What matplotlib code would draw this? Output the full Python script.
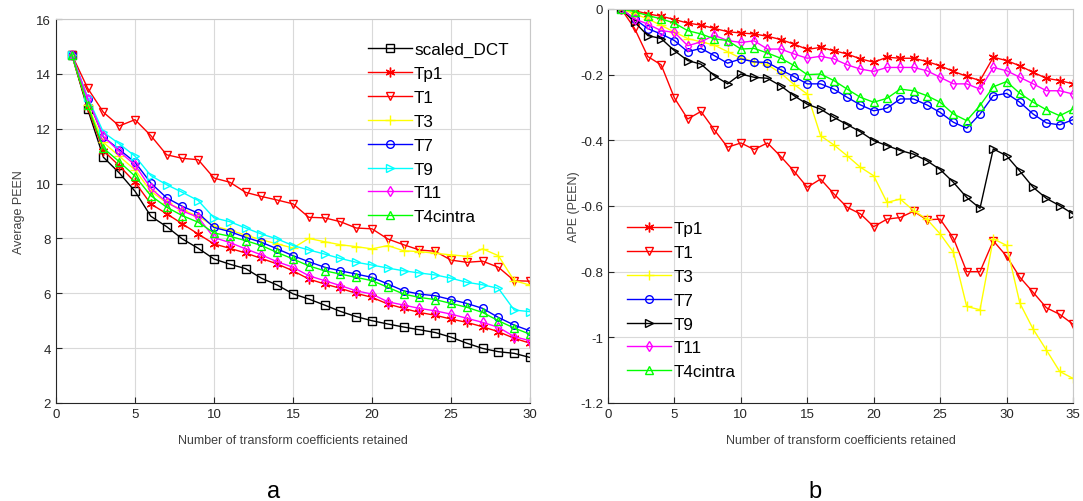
import numpy as np
import matplotlib
matplotlib.use('Agg')
import matplotlib.pyplot as plt

plt.rcParams['font.family'] = ['Liberation Sans', 'DejaVu Sans']

# ---- panel a: Average PEEN, 1..30 coefficients ----
xa = np.arange(1, 31)
a_scaled_dct = [14.7, 12.72, 10.96, 10.39, 9.72, 8.81, 8.43, 7.98, 7.64, 7.25, 7.06, 6.9, 6.55, 6.3, 5.98,
                5.79, 5.57, 5.34, 5.15, 5.0, 4.88, 4.77, 4.67, 4.57, 4.4, 4.18, 3.99, 3.87, 3.81, 3.66]
a_tp1 = [14.7, 12.78, 11.2, 10.65, 10.05, 9.26, 8.9, 8.53, 8.16, 7.8, 7.64, 7.47, 7.27, 7.07, 6.82,
         6.52, 6.34, 6.18, 6.0, 5.85, 5.61, 5.45, 5.3, 5.2, 5.06, 4.94, 4.78, 4.6, 4.36, 4.18]
a_t1 = [14.7, 13.48, 12.6, 12.1, 12.33, 11.75, 11.05, 10.92, 10.87, 10.2, 10.05, 9.68, 9.53, 9.4, 9.26,
        8.77, 8.75, 8.61, 8.38, 8.35, 7.98, 7.77, 7.58, 7.53, 7.21, 7.13, 7.17, 6.95, 6.46, 6.44]
a_t3 = [14.7, 12.88, 11.5, 11.0, 10.5, 9.72, 9.3, 9.05, 8.8, 8.45, 8.3, 8.12, 7.95, 7.8, 7.65,
        8.0, 7.88, 7.77, 7.7, 7.62, 7.74, 7.55, 7.52, 7.46, 7.4, 7.35, 7.62, 7.37, 6.46, 6.3]
a_t7 = [14.7, 13.09, 11.7, 11.24, 10.78, 10.02, 9.48, 9.17, 8.92, 8.4, 8.25, 8.04, 7.86, 7.62, 7.37,
        7.15, 6.95, 6.82, 6.7, 6.58, 6.34, 6.09, 5.97, 5.91, 5.77, 5.63, 5.45, 5.12, 4.84, 4.63]
a_t9 = [14.7, 13.15, 11.87, 11.45, 11.0, 10.29, 9.96, 9.68, 9.38, 8.75, 8.61, 8.38, 8.16, 7.98, 7.74,
        7.58, 7.43, 7.27, 7.13, 7.03, 6.92, 6.82, 6.74, 6.67, 6.55, 6.4, 6.31, 6.18, 5.39, 5.33]
a_t11 = [14.7, 13.1, 11.72, 11.17, 10.68, 9.83, 9.32, 9.0, 8.77, 8.03, 7.85, 7.62, 7.4, 7.15, 6.95,
         6.64, 6.46, 6.28, 6.09, 5.97, 5.69, 5.57, 5.45, 5.36, 5.24, 5.09, 4.94, 4.76, 4.42, 4.27]
a_t4cintra = [14.7, 12.85, 11.29, 10.8, 10.27, 9.56, 9.14, 8.83, 8.59, 8.2, 8.08, 7.92, 7.74, 7.49, 7.25,
              7.0, 6.82, 6.7, 6.58, 6.46, 6.22, 5.97, 5.85, 5.77, 5.63, 5.49, 5.3, 5.0, 4.73, 4.51]

# ---- panel b: APE (PEEN), 1..35 coefficients ----
xb = np.arange(1, 36)
b_tp1 = [0, -0.005, -0.015, -0.022, -0.032, -0.043, -0.049, -0.059, -0.069, -0.073, -0.076, -0.083,
         -0.093, -0.107, -0.123, -0.117, -0.127, -0.137, -0.152, -0.162, -0.147, -0.15, -0.15, -0.16,
         -0.173, -0.19, -0.205, -0.218, -0.147, -0.157, -0.173, -0.193, -0.211, -0.218, -0.228]
b_t1 = [0, -0.059, -0.145, -0.17, -0.271, -0.335, -0.312, -0.368, -0.421, -0.408, -0.428, -0.408,
        -0.449, -0.494, -0.543, -0.518, -0.563, -0.604, -0.624, -0.663, -0.64, -0.635, -0.616, -0.642,
        -0.64, -0.698, -0.8, -0.8, -0.706, -0.753, -0.817, -0.863, -0.91, -0.93, -0.96]
b_t3 = [0, -0.015, -0.03, -0.05, -0.07, -0.09, -0.1, -0.11, -0.13, -0.15, -0.16, -0.17, -0.195,
        -0.23, -0.259, -0.386, -0.414, -0.447, -0.482, -0.508, -0.589, -0.579, -0.614, -0.64, -0.685,
        -0.741, -0.906, -0.916, -0.70, -0.72, -0.896, -0.975, -1.039, -1.104, -1.125]
b_t7 = [0, -0.03, -0.06, -0.076, -0.096, -0.13, -0.12, -0.142, -0.165, -0.152, -0.161, -0.163,
        -0.185, -0.206, -0.228, -0.228, -0.244, -0.269, -0.292, -0.31, -0.302, -0.274, -0.274, -0.292,
        -0.315, -0.345, -0.363, -0.32, -0.264, -0.257, -0.284, -0.32, -0.347, -0.353, -0.337]
b_t9 = [0, -0.04, -0.081, -0.09, -0.127, -0.157, -0.168, -0.203, -0.228, -0.198, -0.208, -0.211,
        -0.234, -0.264, -0.29, -0.305, -0.33, -0.352, -0.374, -0.401, -0.416, -0.431, -0.442, -0.462,
        -0.489, -0.528, -0.574, -0.607, -0.426, -0.447, -0.494, -0.543, -0.577, -0.599, -0.624]
b_t11 = [0, -0.03, -0.046, -0.066, -0.071, -0.112, -0.1, -0.08, -0.096, -0.102, -0.097, -0.122,
         -0.122, -0.137, -0.15, -0.144, -0.152, -0.17, -0.183, -0.19, -0.178, -0.178, -0.178, -0.188,
         -0.208, -0.228, -0.228, -0.244, -0.178, -0.188, -0.208, -0.228, -0.249, -0.249, -0.259]
b_t4cintra = [0, -0.008, -0.02, -0.03, -0.043, -0.066, -0.076, -0.091, -0.096, -0.122, -0.12, -0.134,
              -0.15, -0.172, -0.2, -0.198, -0.218, -0.244, -0.269, -0.284, -0.272, -0.244, -0.249, -0.264,
              -0.284, -0.32, -0.34, -0.294, -0.237, -0.221, -0.257, -0.284, -0.307, -0.325, -0.305]

asterisk = (6, 2, 0)
series_a = [
    ('scaled_DCT', a_scaled_dct, 'black', 's'),
    ('Tp1', a_tp1, 'red', asterisk),
    ('T1', a_t1, 'red', 'v'),
    ('T3', a_t3, 'yellow', '+'),
    ('T7', a_t7, 'blue', 'o'),
    ('T9', a_t9, 'cyan', '>'),
    ('T11', a_t11, 'magenta', 'd'),
    ('T4cintra', a_t4cintra, 'lime', '^'),
]
series_b = [
    ('Tp1', b_tp1, 'red', asterisk),
    ('T1', b_t1, 'red', 'v'),
    ('T3', b_t3, 'yellow', '+'),
    ('T7', b_t7, 'blue', 'o'),
    ('T9', b_t9, 'black', '>'),
    ('T11', b_t11, 'magenta', 'd'),
    ('T4cintra', b_t4cintra, 'lime', '^'),
]

W, H = 1083, 502
fig = plt.figure(figsize=(W / 100, H / 100), dpi=100)


def style_axes(ax):
    ax.grid(True, color='#d9d9d9', lw=0.8)
    ax.set_axisbelow(True)
    for s in ('top', 'right'):
        ax.spines[s].set_color('#c8c8c8')
    for s in ('left', 'bottom'):
        ax.spines[s].set_color('#262626')
    ax.tick_params(direction='in', length=4, colors='#262626', labelsize=9.5,
                   top=False, right=False)


def draw(ax, x, series):
    for name, y, c, m in series:
        filled = m in ('+', asterisk)
        ms = 7 if filled else 5.5
        ax.plot(x, y, color=c, lw=1, marker=m, ms=ms, mfc=c if filled else 'none',
                mec=c, mew=1, label=name)


leg_kw = dict(frameon=False, fontsize=12.3, handlelength=2.55, handletextpad=0.15,
              labelspacing=0.52, borderpad=0, borderaxespad=0, loc='upper left')

ax1 = fig.add_axes([56 / W, (H - 404) / H, (530 - 56) / W, (404 - 20) / H])
style_axes(ax1)
draw(ax1, xa, series_a)
ax1.set_xlim(0, 30)
ax1.set_ylim(2, 16)
ax1.set_xticks(range(0, 31, 5))
ax1.set_yticks(range(2, 17, 2))
ax1.set_xlabel('Number of transform coefficients retained', fontsize=9, color='#404040', labelpad=10)
ax1.set_ylabel('Average PEEN', fontsize=9, color='#404040', labelpad=8)
ax1.legend(bbox_to_anchor=(368 / W, 1 - 43 / H), bbox_transform=fig.transFigure, **leg_kw)

ax2 = fig.add_axes([608 / W, (H - 404) / H, (1073 - 608) / W, (404 - 10) / H])
style_axes(ax2)
draw(ax2, xb, series_b)
ax2.set_xlim(0, 35)
ax2.set_ylim(-1.2, 0)
ax2.set_xticks(range(0, 36, 5))
yt = [-1.2, -1.0, -0.8, -0.6, -0.4, -0.2, 0]
ax2.set_yticks(yt)
ax2.set_yticklabels(['-1.2', '-1', '-0.8', '-0.6', '-0.4', '-0.2', '0'])
ax2.set_xlabel('Number of transform coefficients retained', fontsize=9, color='#404040', labelpad=10)
ax2.set_ylabel('APE (PEEN)', fontsize=9, color='#404040', labelpad=0)
ax2.legend(bbox_to_anchor=(627 / W, 1 - 222 / H), bbox_transform=fig.transFigure, **leg_kw)

fig.text(274 / W, 1 - 492 / H, 'a', fontsize=17, ha='center', va='center')
fig.text(815 / W, 1 - 492 / H, 'b', fontsize=17, ha='center', va='center')

fig.savefig('out.png', dpi=100)
